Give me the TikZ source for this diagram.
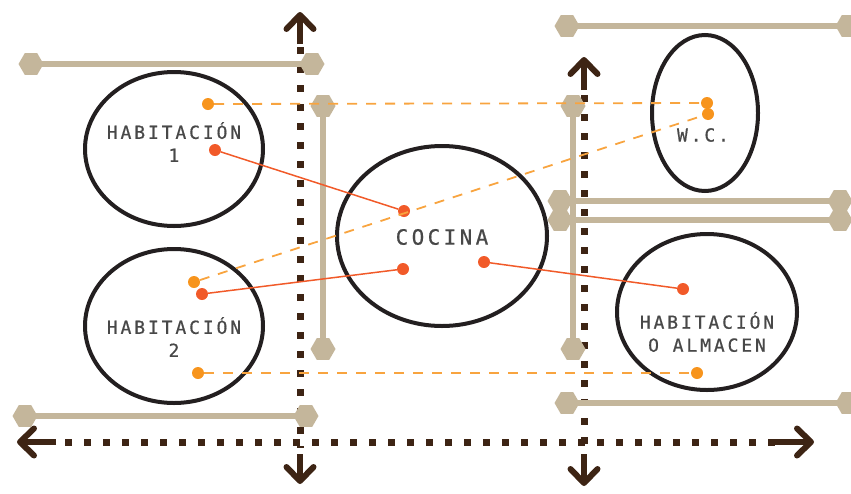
\documentclass[tikz,border=0pt]{standalone}
\usepackage{fontspec}
\setmonofont{DejaVu Sans Mono}[LetterSpace=16,FakeBold=0.6]
\usetikzlibrary{arrows.meta,shapes.geometric}
\definecolor{barclr}{RGB}{196,182,155}
\definecolor{axclr}{RGB}{61,36,20}
\definecolor{orclr}{RGB}{247,148,29}
\definecolor{rdclr}{RGB}{241,90,41}
\definecolor{inkclr}{RGB}{35,31,32}
\definecolor{txtclr}{RGB}{72,72,72}
\newcommand{\roomfont}{\ttfamily\fontsize{18}{23}\selectfont}
\newcommand{\bigroomfont}{\ttfamily\fontsize{21}{25}\selectfont}
\tikzset{
  room/.style={draw=inkclr,ellipse,line width=4pt,inner sep=0pt},
  lbl/.style={font=\roomfont,text=txtclr,align=center,inner sep=0pt},
  axisdot/.style={draw=axclr,line width=7pt,dash pattern=on 7pt off 12pt},
  axarr/.style={draw=axclr,line width=6pt,-{Straight Barb[length=14pt,width=27pt,line cap=round,line join=round]}},
  hexcap/.style={regular polygon,regular polygon sides=6,fill=barclr,minimum size=25pt,inner sep=0pt},
  bar/.style={draw=barclr,line width=6pt},
  odot/.style={circle,fill=orclr,minimum size=12pt,inner sep=0pt},
  rdot/.style={circle,fill=rdclr,minimum size=12pt,inner sep=0pt},
  olink/.style={draw=orclr!85,line width=1.8pt,dash pattern=on 10pt off 9pt},
  rlink/.style={draw=rdclr,line width=1.5pt}
}
\begin{document}
\begin{tikzpicture}[x=1pt,y=-1pt]
  \useasboundingbox (0,0) rectangle (851,493);

  % axes
  \coordinate (vla) at (300,47);
  \coordinate (vlb) at (300,448);
  \coordinate (vra) at (584,95);
  \coordinate (vrb) at (584,448);
  \coordinate (hza) at (65,442);
  \coordinate (hzb) at (775,442);
  \draw[axisdot] (vla) -- (vlb);
  \draw[axisdot] (vra) -- (vrb);
  \draw[axisdot] (hza) -- (hzb);
  \draw[axarr] (300,44) -- (300,12);
  \draw[axarr] (300,454) -- (300,484);
  \draw[axarr] (584,90) -- (584,57);
  \draw[axarr] (584,454) -- (584,486);
  \draw[axarr] (56,442) -- (17,442);
  \draw[axarr] (775,442) -- (814,442);

  % walls
  \node[hexcap] (w1a) at (31,64) {};
  \node[hexcap] (w1b) at (312,64) {};
  \node[hexcap] (w2a) at (323,106) {};
  \node[hexcap] (w2b) at (323,349) {};
  \node[hexcap] (w3a) at (25,416) {};
  \node[hexcap] (w3b) at (306,416) {};
  \node[hexcap] (w4a) at (567,26) {};
  \node[hexcap] (w4b) at (848,26) {};
  \node[hexcap] (w5a) at (573,106) {};
  \node[hexcap] (w5b) at (573,349) {};
  \node[hexcap] (w6a) at (560,201) {};
  \node[hexcap] (w6b) at (840,201) {};
  \node[hexcap] (w7a) at (560,220) {};
  \node[hexcap] (w7b) at (840,220) {};
  \node[hexcap] (w8a) at (567,403) {};
  \node[hexcap] (w8b) at (848,403) {};
  \foreach \w in {w1,w2,w3,w4,w5,w6,w7,w8}
    \draw[bar] (\w a.center) -- (\w b.center);

  % rooms
  \node[room,minimum width=178pt,minimum height=154pt] (hab1) at (174,149) {};
  \node[room,minimum width=178pt,minimum height=154pt] (hab2) at (174,326) {};
  \node[room,minimum width=210pt,minimum height=180pt] (coc) at (442,236) {};
  \node[room,minimum width=106pt,minimum height=156pt] (wc) at (705,113) {};
  \node[room,minimum width=180pt,minimum height=156pt] (alm) at (707,312) {};

  \node[lbl] (hab1t) at (174,142) {HABITACIÓN\\1};
  \node[lbl] (hab2t) at (174,337) {HABITACIÓN\\2};
  \node[lbl,font=\bigroomfont] (coct) at (442,237) {COCINA};
  \node[lbl] (wct) at (703,135) {W.C.};
  \node[lbl] (almt) at (707,332) {HABITACIÓN\\O ALMACEN};

  % links
  \node[odot] (o1) at (208,104) {};
  \node[odot] (o2) at (707,103) {};
  \node[odot] (o3) at (708,114) {};
  \node[odot] (o4) at (194,282) {};
  \node[odot] (o5) at (198,373) {};
  \node[odot] (o6) at (697,373) {};
  \node[rdot] (r1) at (215,150) {};
  \node[rdot] (r2) at (404,211) {};
  \node[rdot] (r3) at (202,294) {};
  \node[rdot] (r4) at (403,269) {};
  \node[rdot] (r5) at (484,262) {};
  \node[rdot] (r6) at (683,289) {};

  \draw[olink] (o1) -- (o2);
  \draw[olink] (o4) -- (o3);
  \draw[olink] (o5) -- (o6);
  \draw[rlink] (r1) -- (r2);
  \draw[rlink] (r3) -- (r4);
  \draw[rlink] (r5) -- (r6);
\end{tikzpicture}
\end{document}
